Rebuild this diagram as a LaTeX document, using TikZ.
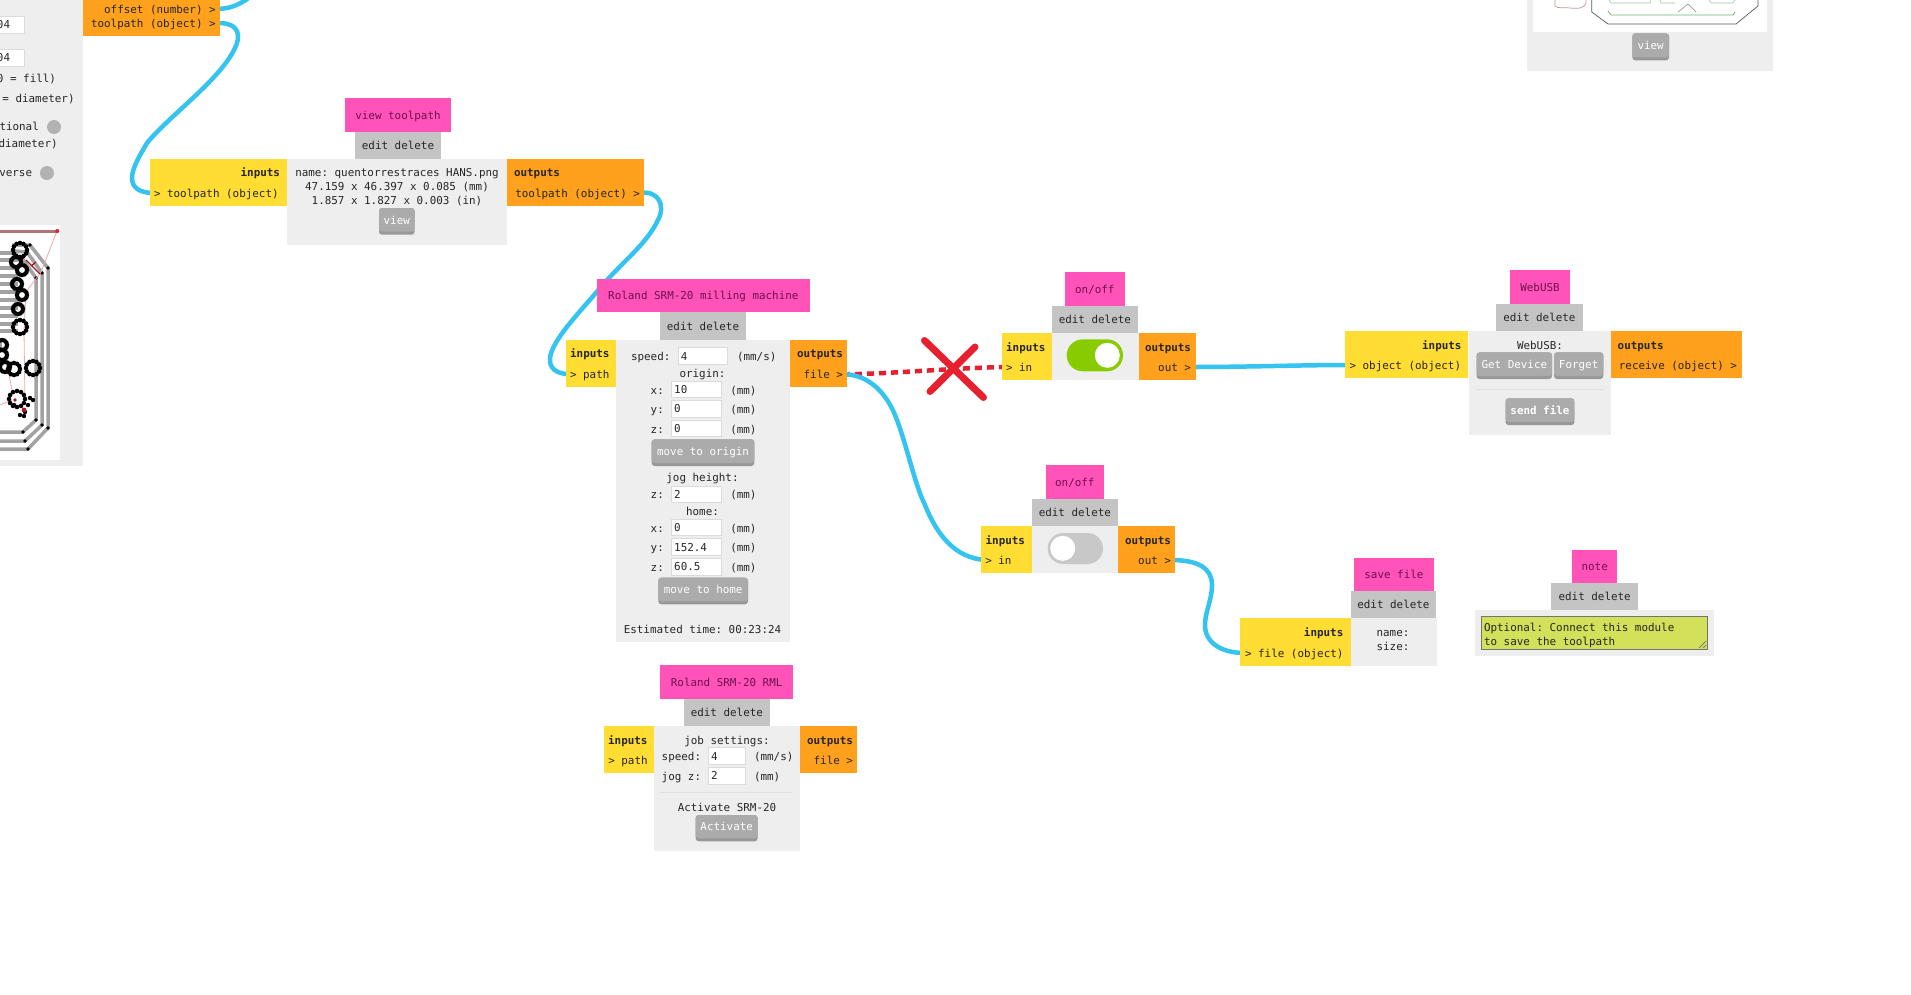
\documentclass[tikz,border=0pt]{standalone}
\usepackage{fontspec}
\setmonofont{DejaVu Sans Mono}
\usetikzlibrary{calc}
\pgfdeclarelayer{bg}
\pgfsetlayers{bg,main}
\definecolor{pinkbox}{HTML}{FF53B9}
\definecolor{pinktext}{HTML}{6E1050}
\definecolor{editbox}{HTML}{C4C4C4}
\definecolor{yellowbox}{HTML}{FFDD33}
\definecolor{orangebox}{HTML}{FFA11C}
\definecolor{bodybox}{HTML}{EEEEEE}
\definecolor{btn}{HTML}{ABABAB}
\definecolor{btndark}{HTML}{989898}
\definecolor{wire}{HTML}{35C3EF}
\definecolor{redx}{HTML}{E6202E}
\definecolor{txt}{HTML}{262626}
\definecolor{notegreen}{HTML}{D2E05A}
\definecolor{togglegreen}{HTML}{88CC00}
\definecolor{toggleoff}{HTML}{C8C8C8}
\definecolor{barcol}{HTML}{A2A2A2}
\definecolor{pinkline}{HTML}{F0A8AC}
\tikzset{
  basefont/.style={font=\ttfamily\fontsize{10.9}{13}\selectfont},
  lbl/.style={basefont,text=txt,inner sep=0pt,outer sep=0pt,text height=11pt,text depth=2.5pt},
  bold/.style={font=\ttfamily\bfseries\fontsize{10.9}{13}\selectfont},
  boxbase/.style={basefont,inner sep=0pt,outer sep=0pt,text height=11pt,text depth=2.5pt,text=txt},
  pinkb/.style={boxbase,fill=pinkbox,text=pinktext},
  editb/.style={boxbase,fill=editbox},
  inb/.style={boxbase,fill=yellowbox},
  outb/.style={boxbase,fill=orangebox},
  bodyb/.style={boxbase,fill=bodybox},
  field/.style={boxbase,fill=white,draw=black!14,line width=0.8pt},
  wirel/.style={draw=wire,line width=4.5pt,line cap=round},
  redl/.style={draw=redx,line width=4.5pt,dash pattern=on 7pt off 5pt},
  redstroke/.style={draw=redx,line width=7pt,line cap=round},
  bar/.style={draw=barcol,line width=3.5pt},
  hrule/.style={draw=black!12,line width=1pt},
}
\newcounter{lb}
\newcommand{\Lb}[4][]{\stepcounter{lb}\node[lbl,#1] (t\thelb) at ({#2},{#3}) {#4};}
% name x1 y1 x2 y2 style text
\newcommand{\Bx}[7]{\node[#6,minimum width={(#4-#2)*1pt},minimum height={(#5-#3)*1pt}] (#1) at ({(#2+#4)/2},{(#3+#5)/2}) {#7};}
% name x1 y1 x2 y2 text
\newcommand{\Btn}[7][]{%
  \node[fill=btndark,rounded corners=3pt,inner sep=0pt,outer sep=0pt,minimum width={(#5-#3)*1pt},minimum height={(#6-#4)*1pt}] (#2) at ({(#3+#5)/2},{(#4+#6)/2}) {};
  \node[fill=btn,rounded corners=3pt,basefont,#1,text=white,inner sep=0pt,outer sep=0pt,text height=11pt,text depth=2.5pt,minimum width={(#5-#3)*1pt},minimum height={(#6-#4-3)*1pt}] (#2top) at ({(#3+#5)/2},{(#4+#6-3)/2}) {#7};}
% name x1 y1 x2 y2 value
\newcommand{\Fld}[6]{\Bx{#1}{#2}{#3}{#4}{#5}{field}{}\Lb[anchor=west]{#2+2.5}{(#3+#5)/2}{#6}}
\begin{document}
\begin{tikzpicture}[x=1pt,y=-1pt]
\useasboundingbox (0,0) rectangle (1911,994);
\begin{pgfonlayer}{bg}
\fill[white] (0,0) rectangle (1911,994);
\end{pgfonlayer}

% ---------- left cut-off panel
\Bx{leftPanel}{-4}{-4}{83}{466}{bodyb}{}
\Bx{leftOut}{83}{-4}{219.7}{36}{outb}{}
\node[lbl,anchor=east] (opOff) at (215.7,9) {offset (number) >};
\node[lbl,anchor=east] (opTool) at (215.7,23) {toolpath (object) >};
\Bx{lf1}{-10}{16}{24.5}{33}{field}{}
\Bx{lf2}{-10}{49.5}{24.5}{66}{field}{}
\Lb[anchor=west]{-3}{24.5}{04}
\Lb[anchor=west]{-3}{57.7}{04}
\Lb[anchor=west]{-3}{78}{0 = fill)}
\Lb[anchor=west]{2.4}{98}{= diameter)}
\Lb[anchor=west]{-0.5}{126}{tional}
\Lb[anchor=west]{-1.4}{143}{diameter)}
\Lb[anchor=west]{-0.7}{172}{verse}
\node[circle,fill=black!30,minimum size=14pt,inner sep=0pt] (dotA) at (54,127) {};
\node[circle,fill=black!30,minimum size=14pt,inner sep=0pt] (dotB) at (47,173) {};
% toolpath preview
\fill[white] (-2,225) rectangle (60,460);
\foreach \yy in {253,260,268,276,284,292,300,308,316,324,331}{\draw[bar] (-2,\yy) -- (18,\yy);}
\draw[bar] (12,245) -- (30,245) -- (48,268) -- (48,428) -- (28,449) -- (-2,449);
\draw[bar] (14,251) -- (27,252) -- (42,273) -- (42,425) -- (25,441) -- (-2,441);
\draw[bar] (22,258) -- (36,278) -- (36,420) -- (23,432) -- (-2,432);
\draw[bar] (0,338) -- (0,352);
\foreach \xx/\yy in {30/245,48/268,48/428,28/449,42/273,42/425,25/441,36/278,36/420,23/432,27/252,22/258}{\fill[black] (\xx,\yy) circle (1.9);}
\draw[pinkline,line width=0.8pt] (57,231) -- (41,272) -- (26,292) -- (24,330) -- (25,405);
\draw[pinkline,line width=0.8pt] (8,370) -- (13,395);
\draw[pinkline,line width=0.8pt] (0,405) -- (12,400);
\draw[draw=redx!70!black,line width=1.2pt] (26,260) -- (40,274);
\draw[draw=redx!70!black,line width=1.2pt] (31,266) -- (36,262);
\draw[draw=black!55!red!55,line width=3pt] (-2,231) -- (56,231);
\fill[redx] (57.3,231) circle (2);
\foreach \cx/\cy/\rr in {20/250/7,16/262/5,22/270/5,17/284/5,22/295/5,18/309/5,20/327/7,2/345/5,2/355/5,5/367/5,14/369/6,33/368/7,17/399/8}{
  \foreach \aa in {0,30,...,330}{\fill[black] ({\cx+\rr*cos(\aa)},{\cy+\rr*sin(\aa)}) circle (2.3);}
}
\foreach \xx/\yy in {25/412,28/405,33/400,30/398,14/405,20/415,24/416}{\fill[black] (\xx,\yy) circle (2.2);}
\fill[redx!75!black] (24,410) circle (2.4);
\fill[redx!75!black] (15,400) circle (1.8);

% ---------- view toolpath
\Bx{vtTitle}{345}{98}{451}{131.5}{pinkb}{view toolpath}
\Bx{vtEdit}{355}{131.5}{441}{158.5}{editb}{edit delete}
\Bx{vtIn}{150}{158.5}{287}{205.7}{inb}{}
\Bx{vtBody}{287}{158.5}{507}{245}{bodyb}{}
\Bx{vtOut}{507}{158.5}{644}{205.7}{outb}{}
\Lb[anchor=east,bold]{280}{172}{inputs}
\node[lbl,anchor=west] (vtPortIn) at (154,193) {> toolpath (object)};
\Lb{397}{172}{name: quentorrestraces HANS.png}
\Lb{397}{186}{47.159 x 46.397 x 0.085 (mm)}
\Lb{397}{200}{1.857 x 1.827 x 0.003 (in)}
\Btn{vtView}{379}{208}{414.6}{234.7}{view}
\Lb[anchor=west,bold]{514}{172}{outputs}
\node[lbl,anchor=east] (vtPortOut) at (640,193) {toolpath (object) >};

% ---------- Roland milling machine
\Bx{rmTitle}{596.7}{278.7}{810}{312}{pinkb}{Roland SRM-20 milling machine}
\Bx{rmEdit}{660.3}{312}{745.7}{339.5}{editb}{edit delete}
\Bx{rmIn}{565.7}{339.5}{616}{386.7}{inb}{}
\Bx{rmBody}{616}{339.5}{789.5}{642.3}{bodyb}{}
\Bx{rmOut}{790}{339.5}{846.7}{386.7}{outb}{}
\Lb[anchor=east,bold]{609.5}{353.3}{inputs}
\node[lbl,anchor=west] (rmPortIn) at (570,374.3) {> path};
\Lb[anchor=east,bold]{843}{353.3}{outputs}
\node[lbl,anchor=east] (rmPortOut) at (843,374.3) {file >};
\Lb[anchor=west]{631}{356}{speed:}
\Fld{rmSpeed}{678.3}{347.3}{727.7}{364.3}{4}
\Lb[anchor=west]{737}{356}{(mm/s)}
\Lb{702.5}{373.3}{origin:}
\Lb[anchor=west]{650.7}{390}{x:}
\Fld{rmOx}{671.7}{381.3}{721.3}{397.3}{10}
\Lb[anchor=west]{730.3}{390}{(mm)}
\Lb[anchor=west]{650.7}{409}{y:}
\Fld{rmOy}{671.7}{400}{721.3}{417.3}{0}
\Lb[anchor=west]{730.3}{409}{(mm)}
\Lb[anchor=west]{650.7}{429}{z:}
\Fld{rmOz}{671.7}{420.7}{721.3}{436.7}{0}
\Lb[anchor=west]{730.3}{429}{(mm)}
\Btn{rmOrigin}{651.7}{439.3}{754.3}{466}{move to origin}
\Lb{702.5}{477.3}{jog height:}
\Lb[anchor=west]{650.7}{494.3}{z:}
\Fld{rmJog}{671.7}{486}{721.3}{502.3}{2}
\Lb[anchor=west]{730.3}{494.3}{(mm)}
\Lb{702.5}{511}{home:}
\Lb[anchor=west]{650.7}{528}{x:}
\Fld{rmHx}{671.7}{519.7}{721.3}{535.7}{0}
\Lb[anchor=west]{730.3}{528}{(mm)}
\Lb[anchor=west]{650.7}{547}{y:}
\Fld{rmHy}{671.7}{538.7}{721.3}{555.3}{152.4}
\Lb[anchor=west]{730.3}{547}{(mm)}
\Lb[anchor=west]{650.7}{567}{z:}
\Fld{rmHz}{671.7}{558.3}{721.3}{575}{60.5}
\Lb[anchor=west]{730.3}{567}{(mm)}
\Btn{rmHome}{658.3}{577.7}{748}{604.3}{move to home}
\Lb{702.5}{629}{Estimated time: 00:23:24}

% ---------- Roland RML
\Bx{rrTitle}{660}{665}{793.3}{698.7}{pinkb}{Roland SRM-20 RML}
\Bx{rrEdit}{683.7}{698.7}{770}{725.5}{editb}{edit delete}
\Bx{rrIn}{604}{725.5}{654.3}{773.3}{inb}{}
\Bx{rrBody}{654.3}{725.5}{800}{851}{bodyb}{}
\Bx{rrOut}{800}{725.5}{857}{773.3}{outb}{}
\Lb[anchor=east,bold]{647.5}{740}{inputs}
\node[lbl,anchor=west] (rrPortIn) at (608.3,760.3) {> path};
\Lb[anchor=east,bold]{853}{740}{outputs}
\node[lbl,anchor=east] (rrPortOut) at (853,760.3) {file >};
\Lb{727}{740}{job settings:}
\Lb[anchor=west]{661.7}{756.3}{speed:}
\Fld{rrSpeed}{708.7}{747.7}{745.3}{764.3}{4}
\Lb[anchor=west]{754}{756.3}{(mm/s)}
\Lb[anchor=west]{661.7}{776.3}{jog z:}
\Fld{rrJog}{708.7}{767.3}{745.3}{784}{2}
\Lb[anchor=west]{754}{776.3}{(mm)}
\draw[hrule] (659,792) -- (792,792);
\Lb{727}{807}{Activate SRM-20}
\Btn{rrAct}{695.7}{815}{757.7}{841.3}{Activate}

% ---------- on/off top
\Bx{ooTitle}{1065}{272.3}{1124.7}{305.7}{pinkb}{on/off}
\Bx{ooEdit}{1052}{305.7}{1137.7}{332.7}{editb}{edit delete}
\Bx{ooIn}{1001.7}{332.7}{1052}{380}{inb}{}
\Bx{ooBody}{1052}{332.7}{1138.7}{380}{bodyb}{}
\Bx{ooOut}{1138.7}{332.7}{1195.7}{380}{outb}{}
\Lb[anchor=east,bold]{1045.5}{347.3}{inputs}
\node[lbl,anchor=west] (ooPortIn) at (1006,367) {> in};
\Lb[anchor=east,bold]{1191}{347.3}{outputs}
\node[lbl,anchor=east] (ooPortOut) at (1191,367) {out >};
\Bx{ooToggle}{1066.7}{339.3}{1123}{371.3}{fill=togglegreen,rounded corners=16pt}{}
\node[circle,fill=white,minimum size=25pt,inner sep=0pt] (ooKnob) at (1107.3,355.3) {};

% ---------- on/off bottom
\Bx{o2Title}{1045.7}{465.3}{1104}{499}{pinkb}{on/off}
\Bx{o2Edit}{1031.7}{499}{1118}{525.7}{editb}{edit delete}
\Bx{o2In}{981}{525.7}{1031.7}{573.3}{inb}{}
\Bx{o2Body}{1031.7}{525.7}{1118.3}{573.3}{bodyb}{}
\Bx{o2Out}{1118.3}{525.7}{1175}{573.3}{outb}{}
\Lb[anchor=east,bold]{1025}{540}{inputs}
\node[lbl,anchor=west] (o2PortIn) at (985.3,560) {> in};
\Lb[anchor=east,bold]{1171}{540}{outputs}
\node[lbl,anchor=east] (o2PortOut) at (1171,560) {out >};
\Bx{o2Toggle}{1047.7}{533}{1103}{564}{fill=toggleoff,rounded corners=15.5pt}{}
\node[circle,fill=white,minimum size=25pt,inner sep=0pt] (o2Knob) at (1062.7,548.3) {};

% ---------- WebUSB
\Bx{wuTitle}{1510}{270.3}{1570}{304}{pinkb}{WebUSB}
\Bx{wuEdit}{1495.8}{304}{1583}{331}{editb}{edit delete}
\Bx{wuIn}{1345}{331}{1468}{378.3}{inb}{}
\Bx{wuBody}{1469.3}{331}{1610.5}{435}{bodyb}{}
\Bx{wuOut}{1610.5}{331}{1741.7}{378.3}{outb}{}
\Lb[anchor=east,bold]{1461.5}{345}{inputs}
\node[lbl,anchor=west] (wuPortIn) at (1349.5,365) {> object (object)};
\Lb[anchor=west,bold]{1617.7}{345}{outputs}
\node[lbl,anchor=east] (wuPortOut) at (1737,365) {receive (object) >};
\Lb{1540}{345}{WebUSB:}
\Btn{wuGet}{1476.6}{352.3}{1552}{379}{Get Device}
\Btn{wuForget}{1554}{352.3}{1603.3}{379}{Forget}
\draw[hrule] (1476,389.7) -- (1603.6,389.7);
\Btn[bold]{wuSend}{1505.5}{398.3}{1574.4}{425}{send file}

% ---------- save file
\Bx{sfTitle}{1354.3}{557.7}{1433.5}{591}{pinkb}{save file}
\Bx{sfEdit}{1350.5}{591}{1436.3}{618}{editb}{edit delete}
\Bx{sfIn}{1240.3}{618}{1350.5}{666}{inb}{}
\Bx{sfBody}{1350.5}{618}{1437}{666}{bodyb}{}
\Lb[anchor=east,bold]{1343.3}{632}{inputs}
\node[lbl,anchor=west] (sfPortIn) at (1245,653) {> file (object)};
\Lb{1393}{632}{name:}
\Lb{1393}{646}{size:}

% ---------- note
\Bx{ntTitle}{1572}{549.7}{1617.4}{583}{pinkb}{note}
\Bx{ntEdit}{1551.3}{583}{1638}{610}{editb}{edit delete}
\Bx{ntBody}{1474.8}{610}{1713.8}{656}{bodyb}{}
\Bx{ntArea}{1481.4}{616.7}{1707.6}{649.3}{fill=notegreen,draw=black!55,line width=0.9pt}{}
\Lb[anchor=west]{1484}{627}{Optional: Connect this module}
\Lb[anchor=west]{1484}{641}{to save the toolpath}
\draw[black!55,line width=0.7pt] (1699,648) -- (1706,641);
\draw[black!55,line width=0.7pt] (1703,648) -- (1706,645);

% ---------- top-right view panel
\Bx{trPanel}{1527}{-4}{1773}{70.7}{bodyb}{}
\Bx{trImage}{1533}{-4}{1767}{31.7}{fill=white}{}
\Btn{trView}{1632.3}{33.3}{1669}{60.3}{view}
\draw[black!65,line width=0.7pt] (1591.7,0) -- (1591.7,12) -- (1608,24) -- (1736,24) -- (1758,6) -- (1758,0);
\draw[green!45!black!55,line width=0.8pt] (1608,11) -- (1611,15) -- (1733,15) -- (1735,12);
\draw[black!40,line width=0.7pt] (1678,12) -- (1688,4) -- (1696,12);
\draw[green!35!black!35,line width=0.6pt] (1609,0) -- (1611,3) -- (1650,3) -- (1651,0);
\draw[green!35!black!35,line width=0.6pt] (1660,0) -- (1661,3) -- (1675,3);
\draw[green!35!black!35,line width=0.6pt] (1709,0) -- (1711,3) -- (1733,3) -- (1735,0);
\draw[black!60!red!40,line width=0.7pt] (1555,0) -- (1555,6) .. controls (1557,9) and (1566,7) .. (1570,8) .. controls (1578,9) and (1585,8) .. (1586,3) -- (1586,0);

% ---------- connectors
\begin{pgfonlayer}{bg}
\draw[redl] (rmPortOut.east) .. controls (890,374) and (950,368) .. (ooPortIn.west);
\draw[wirel] (opOff.east) .. controls (228,9) and (238,6) .. (250,-3);
\draw[wirel] (opTool.east) .. controls (242,22) and (240,38) .. (235,48)
   .. controls (220,80) and (170,115) .. (147,143)
   .. controls (140,155) and (132,168) .. (132,178)
   .. controls (132,188) and (140,193) .. (vtPortIn.west);
\draw[wirel] (vtPortOut.east) .. controls (658,190) and (666,205) .. (658,220)
   .. controls (646,245) and (622,262) .. (600,288)
   .. controls (580,312) and (552,340) .. (550,358)
   .. controls (549,368) and (556,374) .. (rmPortIn.west);
\draw[wirel] (rmPortOut.east) .. controls (870,374) and (888,395) .. (897,420)
   .. controls (908,450) and (915,485) .. (925,505)
   .. controls (937,535) and (955,558) .. (o2PortIn.west);
\draw[wirel] (ooPortOut.east) .. controls (1250,367) and (1300,365) .. (wuPortIn.west);
\draw[wirel] (o2PortOut.east) .. controls (1198,560) and (1212,568) .. (1212,585)
   .. controls (1212,600) and (1205,612) .. (1205,625)
   .. controls (1205,642) and (1220,653) .. (sfPortIn.west);
\end{pgfonlayer}

% ---------- red cross
\coordinate (xa) at (924.5,340.5);
\coordinate (xb) at (983.5,397.5);
\coordinate (xc) at (975,347);
\coordinate (xd) at (930,391.5);
\draw[redstroke] (xa) -- (xb);
\draw[redstroke] (xc) -- (xd);
\end{tikzpicture}
\end{document}
